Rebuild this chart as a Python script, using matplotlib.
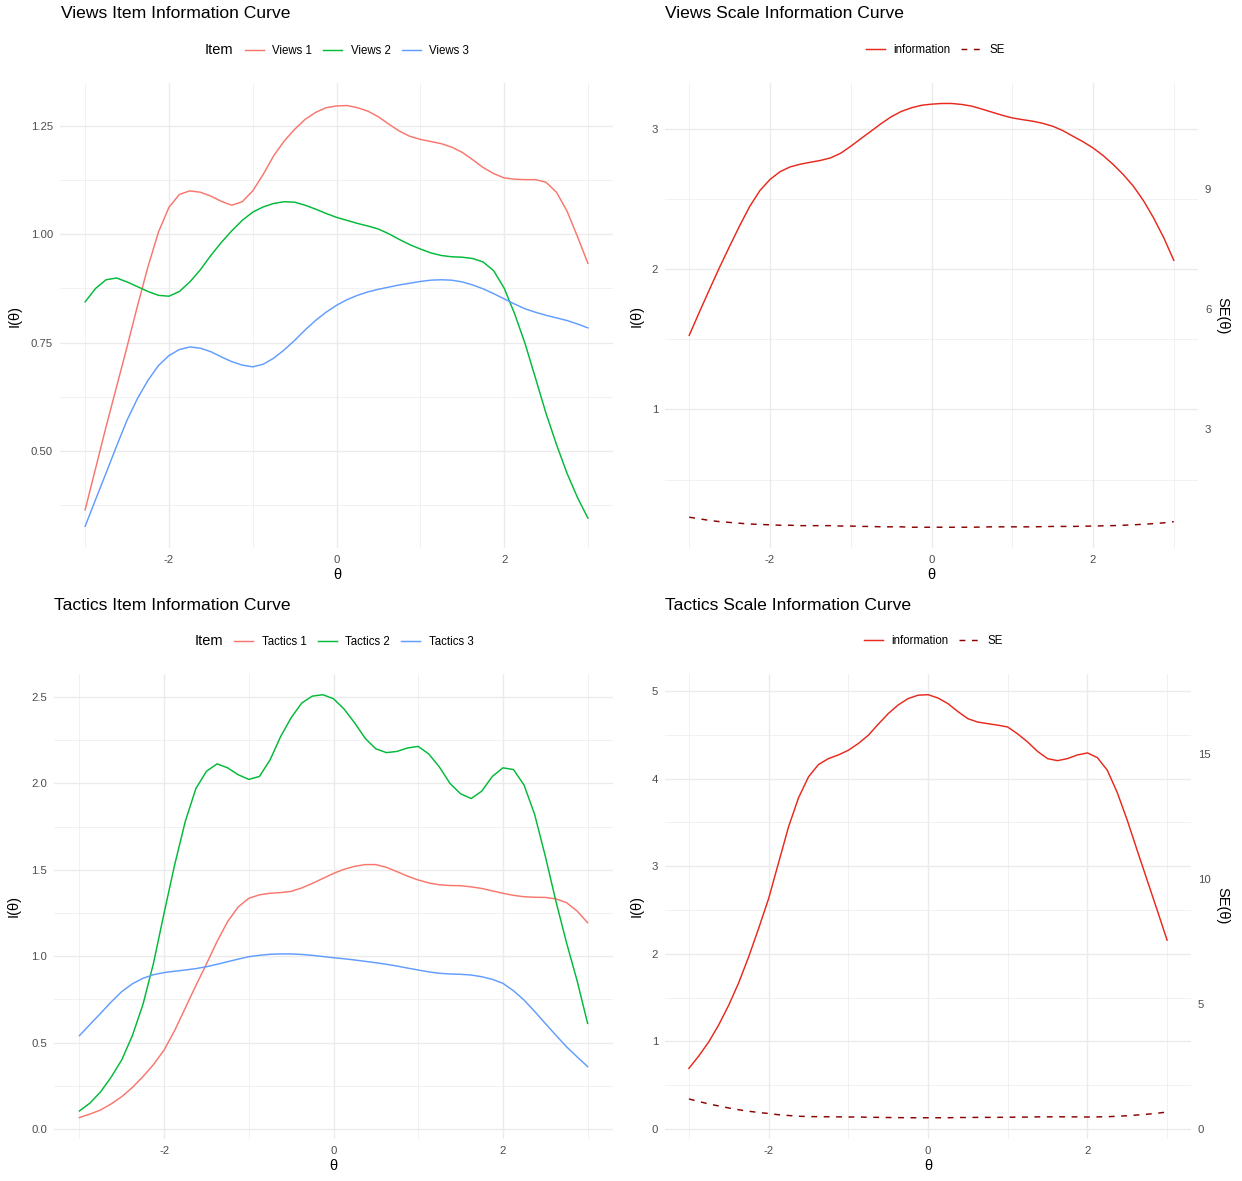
import matplotlib
matplotlib.use("Agg")
import matplotlib.pyplot as plt
from matplotlib.lines import Line2D
from matplotlib.ticker import FormatStrFormatter

plt.rcParams["font.family"] = ["Liberation Sans", "DejaVu Sans"]
plt.rcParams["axes.unicode_minus"] = False

# theta grid the curves were read on (steps of 1/8)
theta = [-3.0, -2.875, -2.75, -2.625, -2.5, -2.375, -2.25, -2.125, -2.0, -1.875, -1.75, -1.625,
         -1.5, -1.375, -1.25, -1.125, -1.0, -0.875, -0.75, -0.625, -0.5, -0.375, -0.25, -0.125,
         0.0, 0.125, 0.25, 0.375, 0.5, 0.625, 0.75, 0.875, 1.0, 1.125, 1.25, 1.375,
         1.5, 1.625, 1.75, 1.875, 2.0, 2.125, 2.25, 2.375, 2.5, 2.625, 2.75, 2.875, 3.0]

views_items = ["Views 1", "Views 2", "Views 3"]
views_1 = [0.364, 0.460, 0.556, 0.648, 0.740, 0.835, 0.925, 1.005, 1.062, 1.092, 1.100, 1.097,
           1.088, 1.076, 1.067, 1.075, 1.100, 1.138, 1.181, 1.215, 1.242, 1.265, 1.281, 1.292,
           1.296, 1.297, 1.292, 1.284, 1.271, 1.254, 1.238, 1.226, 1.219, 1.214, 1.209, 1.201,
           1.189, 1.172, 1.154, 1.140, 1.130, 1.127, 1.126, 1.126, 1.120, 1.097, 1.054, 0.995, 0.933]
views_2 = [0.844, 0.875, 0.895, 0.899, 0.890, 0.879, 0.868, 0.859, 0.857, 0.868, 0.890, 0.918,
           0.951, 0.981, 1.008, 1.032, 1.051, 1.063, 1.071, 1.075, 1.074, 1.067, 1.058, 1.048,
           1.039, 1.032, 1.025, 1.019, 1.012, 1.001, 0.988, 0.976, 0.966, 0.957, 0.951, 0.948,
           0.947, 0.944, 0.936, 0.916, 0.876, 0.817, 0.748, 0.668, 0.587, 0.515, 0.449, 0.393, 0.345]
views_3 = [0.326, 0.388, 0.449, 0.511, 0.571, 0.621, 0.663, 0.697, 0.720, 0.734, 0.740, 0.737,
           0.729, 0.717, 0.706, 0.698, 0.694, 0.700, 0.714, 0.733, 0.755, 0.779, 0.801, 0.820,
           0.836, 0.849, 0.859, 0.867, 0.873, 0.878, 0.883, 0.887, 0.891, 0.894, 0.895, 0.894,
           0.890, 0.883, 0.874, 0.863, 0.851, 0.839, 0.828, 0.820, 0.813, 0.807, 0.801, 0.793, 0.784]
views_info = [1.528, 1.693, 1.854, 2.012, 2.163, 2.310, 2.448, 2.560, 2.639, 2.695, 2.729, 2.748,
              2.762, 2.775, 2.793, 2.826, 2.876, 2.930, 2.983, 3.037, 3.086, 3.124, 3.150, 3.168,
              3.176, 3.181, 3.181, 3.174, 3.162, 3.141, 3.119, 3.097, 3.078, 3.066, 3.055, 3.040,
              3.019, 2.988, 2.948, 2.909, 2.864, 2.810, 2.746, 2.674, 2.591, 2.488, 2.365, 2.225, 2.063]
views_se = [0.81, 0.77, 0.73, 0.70, 0.68, 0.66, 0.64, 0.63, 0.62, 0.61, 0.61, 0.60,
            0.60, 0.60, 0.60, 0.59, 0.59, 0.58, 0.58, 0.57, 0.57, 0.57, 0.56, 0.56,
            0.56, 0.56, 0.56, 0.56, 0.56, 0.565, 0.57, 0.57, 0.57, 0.57, 0.57, 0.575,
            0.58, 0.58, 0.58, 0.585, 0.59, 0.595, 0.60, 0.61, 0.62, 0.635, 0.65, 0.67, 0.70]

tactics_items = ["Tactics 1", "Tactics 2", "Tactics 3"]
tactics_1 = [0.066, 0.086, 0.110, 0.145, 0.187, 0.240, 0.303, 0.373, 0.457, 0.570, 0.700, 0.830,
             0.955, 1.085, 1.200, 1.285, 1.335, 1.355, 1.364, 1.368, 1.375, 1.395, 1.421, 1.450,
             1.479, 1.503, 1.520, 1.530, 1.530, 1.514, 1.489, 1.463, 1.441, 1.424, 1.413, 1.409,
             1.408, 1.401, 1.392, 1.378, 1.364, 1.352, 1.344, 1.341, 1.340, 1.332, 1.310, 1.262, 1.194]
tactics_2 = [0.104, 0.150, 0.215, 0.300, 0.400, 0.540, 0.720, 0.960, 1.250, 1.530, 1.780, 1.970,
             2.070, 2.113, 2.090, 2.050, 2.023, 2.040, 2.135, 2.270, 2.380, 2.465, 2.505, 2.513,
             2.490, 2.430, 2.350, 2.260, 2.200, 2.178, 2.185, 2.205, 2.214, 2.170, 2.095, 2.000,
             1.940, 1.912, 1.955, 2.040, 2.090, 2.080, 1.990, 1.820, 1.580, 1.320, 1.080, 0.860, 0.611]
tactics_3 = [0.540, 0.605, 0.669, 0.735, 0.795, 0.840, 0.872, 0.893, 0.905, 0.913, 0.920, 0.928,
             0.939, 0.953, 0.968, 0.983, 0.997, 1.005, 1.011, 1.013, 1.013, 1.010, 1.005, 0.998,
             0.991, 0.985, 0.978, 0.970, 0.962, 0.953, 0.943, 0.931, 0.920, 0.909, 0.901, 0.897,
             0.895, 0.891, 0.881, 0.866, 0.843, 0.800, 0.746, 0.680, 0.611, 0.543, 0.476, 0.418, 0.361]
tactics_info = [0.692, 0.835, 0.996, 1.190, 1.414, 1.670, 1.966, 2.290, 2.630, 3.040, 3.449, 3.780,
                4.019, 4.160, 4.228, 4.270, 4.323, 4.400, 4.494, 4.620, 4.741, 4.840, 4.913, 4.952,
                4.958, 4.920, 4.856, 4.765, 4.684, 4.645, 4.627, 4.610, 4.589, 4.510, 4.418, 4.310,
                4.228, 4.205, 4.228, 4.270, 4.293, 4.240, 4.095, 3.840, 3.525, 3.180, 2.840, 2.500, 2.156]
tactics_se = [1.20, 1.10, 1.00, 0.92, 0.84, 0.77, 0.71, 0.66, 0.62, 0.57, 0.54, 0.51,
              0.50, 0.49, 0.49, 0.485, 0.48, 0.48, 0.47, 0.465, 0.46, 0.455, 0.45, 0.45,
              0.45, 0.45, 0.45, 0.46, 0.46, 0.465, 0.465, 0.465, 0.47, 0.475, 0.475, 0.485,
              0.485, 0.49, 0.485, 0.485, 0.48, 0.485, 0.49, 0.51, 0.53, 0.56, 0.59, 0.63, 0.68]

SE_SCALE = 3.5  # secondary axis: SE = left value * SE_SCALE

item_colors = ["#F8766D", "#00BA38", "#619CFF"]
info_color = "#E8291C"
se_color = "darkred"
grid_color = "#EBEBEB"
tick_color = "#4D4D4D"

W, H = 1242, 1181
fig = plt.figure(figsize=(W / 100, H / 100), dpi=100)


def px_axes(left, top, right, bottom):
    return fig.add_axes([left / W, 1 - bottom / H, (right - left) / W, (bottom - top) / H])


def style(ax, ylim, major, minor, fmt):
    ax.set_xlim(-3.3, 3.3)
    ax.set_ylim(*ylim)
    for s in ax.spines.values():
        s.set_visible(False)
    ax.set_xticks([-2, 0, 2])
    ax.set_xticks([-3, -1, 1, 3], minor=True)
    ax.set_yticks(major)
    ax.set_yticks(minor, minor=True)
    ax.yaxis.set_major_formatter(FormatStrFormatter(fmt))
    ax.grid(which="major", color=grid_color, lw=1.0)
    ax.grid(which="minor", color=grid_color, lw=0.5)
    ax.tick_params(which="both", length=0, labelsize=8.2, colors=tick_color)
    ax.tick_params(axis="y", pad=5)
    ax.tick_params(axis="x", pad=5)
    ax.set_axisbelow(True)


def label(x, y, s, size, rot=0, ha="center"):
    fig.text(x / W, 1 - y / H, s, fontsize=size, rotation=rot, ha=ha, va="center", color="black")


def add_legend(handles, labels, cx, cy, title=None):
    leg = fig.legend(handles, labels, loc="center", bbox_to_anchor=(cx / W, 1 - cy / H),
                     ncol=len(labels), frameon=False, fontsize=8.3, title=title,
                     title_fontsize=10.5, handlelength=1.65, handletextpad=0.75,
                     columnspacing=0.95, borderpad=0, borderaxespad=0)
    if title is not None:
        # put the legend title on the left of the keys, as ggplot does
        outer = leg.get_children()[0]
        title_box, entries = outer.get_children()
        outer._children = [entries]
        entries._children = [title_box] + entries.get_children()
    return leg


def item_panel(rect, series, names, ylim, major, minor, fmt, title, tx, ty, lx, ly, xl, legend_x):
    ax = px_axes(*rect)
    for vals, c in zip(series, item_colors):
        ax.plot(theta, vals, color=c, lw=1.05)
    style(ax, ylim, major, minor, fmt)
    label(tx, ty, title, 12.6, ha="left")
    label(lx, ly, "I(θ)", 10.5, rot=90)
    label(xl, rect[3] + 27, "θ", 10.5)
    handles = [Line2D([], [], color=c, lw=1.05) for c in item_colors]
    add_legend(handles, names, legend_x, ty + 36, title="Item")
    return ax


def scale_panel(rect, info, se, ylim, major, minor, se_ticks, title, tx, ty, lx, ly, xl, legend_x):
    ax = px_axes(*rect)
    ax.plot(theta, info, color=info_color, lw=1.05)
    ax.plot(theta, [v / SE_SCALE for v in se], color=se_color, lw=1.05, ls=(0, (4, 4.5)))
    style(ax, ylim, major, minor, "%d")
    sec = ax.secondary_yaxis("right", functions=(lambda v: v * SE_SCALE, lambda v: v / SE_SCALE))
    sec.set_yticks(se_ticks)
    sec.tick_params(length=0, labelsize=8.2, colors=tick_color, pad=5)
    for s in sec.spines.values():
        s.set_visible(False)
    label(tx, ty, title, 12.6, ha="left")
    label(lx, ly, "I(θ)", 10.5, rot=90)
    label(1222, ly, "SE(θ)", 10.5, rot=270)
    label(xl, rect[3] + 27, "θ", 10.5)
    handles = [Line2D([], [], color=info_color, lw=1.05),
               Line2D([], [], color=se_color, lw=1.05, ls=(0, (4, 4.5)))]
    add_legend(handles, ["information", "SE"], legend_x, ty + 36)
    return ax


item_panel((60, 83, 613, 548), [views_1, views_2, views_3], views_items,
           (0.276, 1.349), [0.5, 0.75, 1.0, 1.25], [0.375, 0.625, 0.875, 1.125], "%.2f",
           "Views Item Information Curve", 61, 14, 15, 316, 337, 337)

scale_panel((665, 83, 1198, 548), views_info, views_se,
            (0.012, 3.327), [1, 2, 3], [0.5, 1.5, 2.5], [3, 6, 9],
            "Views Scale Information Curve", 665, 14, 637, 316, 931, 935)

item_panel((54, 674, 613, 1139), [tactics_1, tactics_2, tactics_3], tactics_items,
           (-0.058, 2.633), [0.0, 0.5, 1.0, 1.5, 2.0, 2.5], [0.25, 0.75, 1.25, 1.75, 2.25], "%.1f",
           "Tactics Item Information Curve", 54, 605, 14, 906, 333, 334)

scale_panel((665, 674, 1191, 1139), tactics_info, tactics_se,
            (-0.114, 5.194), [0, 1, 2, 3, 4, 5], [0.5, 1.5, 2.5, 3.5, 4.5], [0, 5, 10, 15],
            "Tactics Scale Information Curve", 665, 605, 637, 906, 928, 933)

fig.savefig("out.png", dpi=100, facecolor="white")
